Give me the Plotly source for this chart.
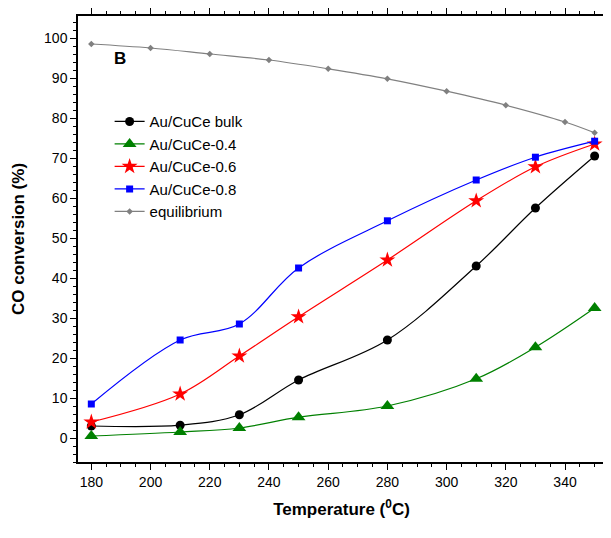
import plotly.graph_objects as go

temps = [180, 210, 230, 250, 280, 310, 330, 350]
bulk = [3.0, 3.2, 5.8, 14.5, 24.5, 43.0, 57.5, 70.5]
cuce04 = [0.5, 1.5, 2.5, 5.2, 8.0, 14.8, 22.7, 32.5]
cuce06 = [4.0, 11.0, 20.5, 30.3, 44.5, 59.3, 67.8, 73.5]
cuce08 = [8.5, 24.5, 28.5, 42.5, 54.3, 64.5, 70.2, 74.2]
eq_temps = [180, 200, 220, 240, 260, 280, 300, 320, 340, 350]
equil = [98.5, 97.5, 96.0, 94.5, 92.3, 89.8, 86.7, 83.2, 79.0, 76.3]

fig = go.Figure()
series = [
    ("Au/CuCe bulk", bulk, "black", "circle", 9),
    ("Au/CuCe-0.4", cuce04, "green", "triangle-up", 12),
    ("Au/CuCe-0.6", cuce06, "red", "star", 12),
    ("Au/CuCe-0.8", cuce08, "blue", "square", 7),
]
for name, ys, col, sym, sz in series:
    fig.add_trace(go.Scatter(x=temps, y=ys, name=name, mode="lines+markers",
                             line=dict(color=col, width=1.2, shape="spline", smoothing=1.0),
                             marker=dict(color=col, symbol=sym, size=sz)))
fig.add_trace(go.Scatter(x=eq_temps, y=equil, name="equilibrium", mode="lines+markers",
                         line=dict(color="gray", width=1.2, shape="spline"),
                         marker=dict(color="gray", symbol="diamond", size=5)))

axis = dict(showline=True, linecolor="black", linewidth=1.5, mirror="ticks",
            ticks="outside", ticklen=6, tickcolor="black", showgrid=False, zeroline=False,
            minor=dict(ticks="outside", ticklen=3, tickcolor="black"),
            tickfont=dict(size=14, color="black", family="Arial"))
fig.update_xaxes(axis, range=[175.5, 353.5], dtick=20, tick0=180,
                 title=dict(text="<b>Temperature (<sup>0</sup>C)</b>", font=dict(size=17, family="Arial")))
fig.update_yaxes(axis, range=[-6, 105.5], dtick=10, tick0=0,
                 title=dict(text="<b>CO conversion (%)</b>", font=dict(size=17, family="Arial")))
fig.add_annotation(x=0.065, y=0.93, xref="paper", yref="paper", text="<b>B</b>",
                   showarrow=False, font=dict(size=17, color="black", family="Arial"))
fig.update_layout(width=611, height=538, plot_bgcolor="white", paper_bgcolor="white",
                  margin=dict(l=70, r=14, t=0, b=84),
                  font=dict(family="Arial", color="black"),
                  legend=dict(x=0.06, y=0.8, bgcolor="rgba(0,0,0,0)",
                              font=dict(size=15), tracegroupgap=0, itemwidth=30))
fig.write_html("out.html")
